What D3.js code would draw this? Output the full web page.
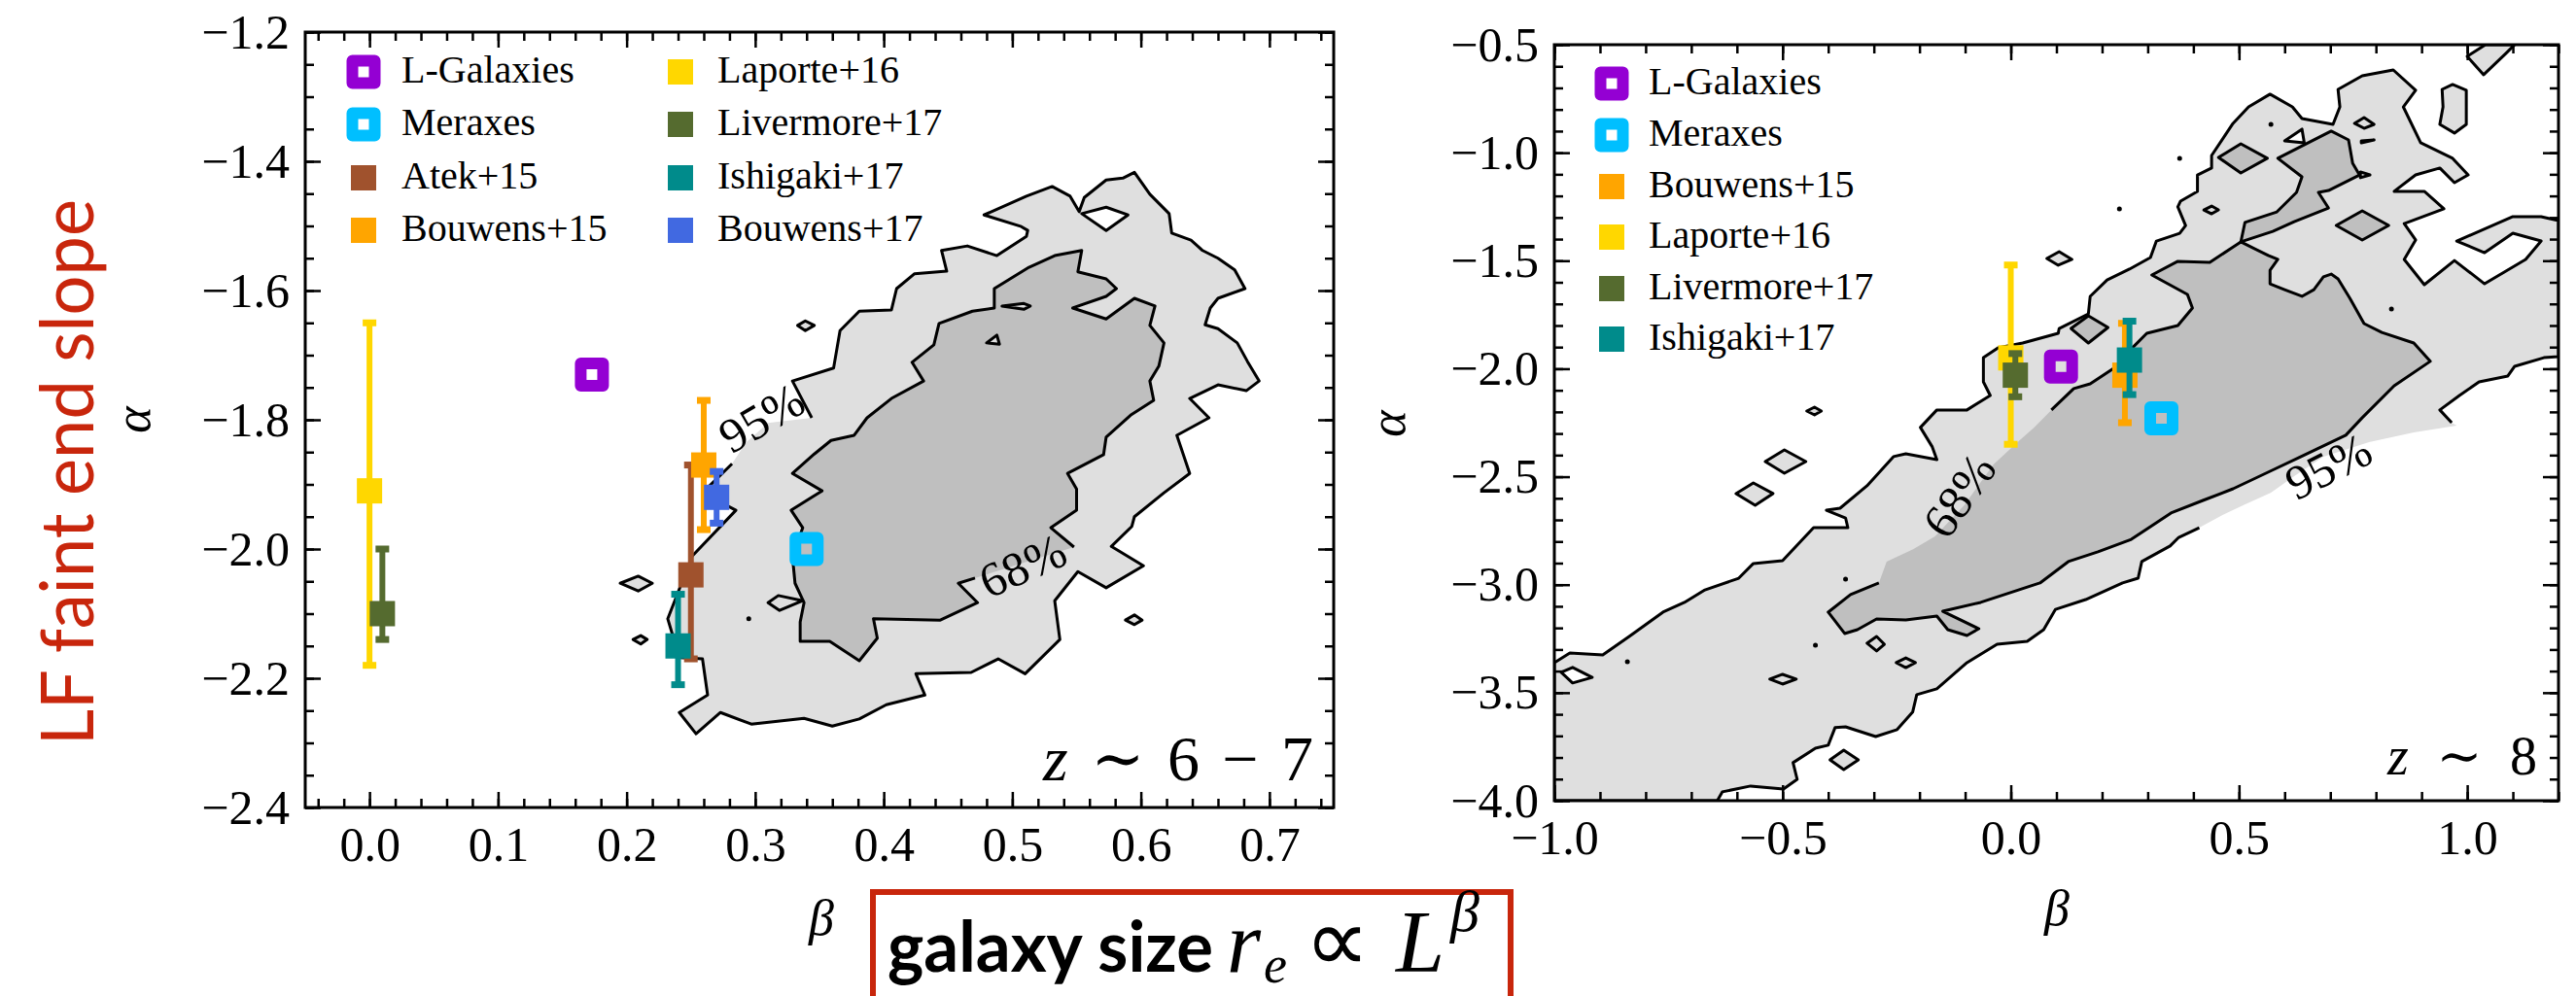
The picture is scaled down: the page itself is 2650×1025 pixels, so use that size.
<!DOCTYPE html>
<html lang="en">
<head>
<meta charset="UTF-8">
<title>LF faint end slope vs size-luminosity slope</title>
<script src="https://d3js.org/d3.v7.min.js"></script>
<style>
  body { margin: 0; background: #fff; }
  svg { display: block; }
</style>
</head>
<body>
<svg id="fig" width="2650" height="1025"></svg>
<script>
// ---------- data: z ~ 6-7 panel ----------
const leftSeries = ["L-Galaxies", "Meraxes", "Atek+15", "Bouwens+15", "Laporte+16", "Livermore+17", "Ishigaki+17", "Bouwens+17"];
const leftBeta  = [0.173, 0.340, 0.250, 0.260, 0.000, 0.010, 0.240, 0.270];
const leftAlpha = [-1.73, -2.00, -2.04, -1.87, -1.91, -2.10, -2.15, -1.92];
const leftHi    = [null, null, -1.87, -1.77, -1.65, -2.00, -2.07, -1.88];
const leftLo    = [null, null, -2.17, -1.97, -2.18, -2.14, -2.21, -1.96];

// ---------- data: z ~ 8 panel ----------
const rightSeries = ["L-Galaxies", "Meraxes", "Bouwens+15", "Laporte+16", "Livermore+17", "Ishigaki+17"];
const rightBeta  = [0.11, 0.33, 0.25, 0.00, 0.01, 0.26];
const rightAlpha = [-1.99, -2.23, -2.03, -1.95, -2.03, -1.96];
const rightHi    = [null, null, -1.79, -1.52, -1.93, -1.78];
const rightLo    = [null, null, -2.25, -2.35, -2.13, -2.12];

// tick labels
const leftXTicks  = [0.0, 0.1, 0.2, 0.3, 0.4, 0.5, 0.6, 0.7];
const leftYTicks  = [-2.4, -2.2, -2.0, -1.8, -1.6, -1.4, -1.2];
const rightXTicks = [-1.0, -0.5, 0.0, 0.5, 1.0];
const rightYTicks = [-4.0, -3.5, -3.0, -2.5, -2.0, -1.5, -1.0, -0.5];

// ---------- posterior contours (beta, alpha) ----------
// outer (95%) and inner (68%) levels; *Gap = fill-only stretch where the label sits
const left95 = [[0.344,-1.797],[0.329,-1.740],[0.361,-1.720],[0.366,-1.662],[0.381,-1.632],[0.406,-1.630],[0.410,-1.597],[0.424,-1.574],[0.449,-1.570],[0.445,-1.538],[0.465,-1.531],[0.488,-1.546],[0.511,-1.516],[0.512,-1.507],[0.507,-1.501],[0.478,-1.483],[0.511,-1.454],[0.531,-1.439],[0.545,-1.454],[0.552,-1.478],[0.556,-1.456],[0.573,-1.429],[0.586,-1.426],[0.595,-1.417],[0.607,-1.451],[0.622,-1.481],[0.624,-1.511],[0.639,-1.522],[0.648,-1.538],[0.660,-1.550],[0.673,-1.568],[0.681,-1.597],[0.660,-1.612],[0.654,-1.627],[0.650,-1.653],[0.660,-1.659],[0.675,-1.681],[0.683,-1.710],[0.692,-1.740],[0.682,-1.755],[0.660,-1.746],[0.638,-1.767],[0.653,-1.797],[0.628,-1.824],[0.638,-1.883],[0.618,-1.913],[0.595,-1.950],[0.593,-1.965],[0.577,-1.996],[0.602,-2.026],[0.573,-2.060],[0.551,-2.035],[0.533,-2.080],[0.537,-2.140],[0.510,-2.193],[0.489,-2.170],[0.468,-2.191],[0.425,-2.193],[0.432,-2.226],[0.402,-2.241],[0.381,-2.263],[0.360,-2.274],[0.338,-2.262],[0.297,-2.271],[0.273,-2.253],[0.254,-2.286],[0.241,-2.253],[0.263,-2.226],[0.259,-2.170],[0.241,-2.168],[0.232,-2.108],[0.251,-2.011],[0.285,-1.940],[0.259,-1.913],[0.282,-1.868]];
const left95Gap = [[0.293,-1.835],[0.310,-1.805]];
const left68 = [[0.548,-1.997],[0.530,-1.967],[0.550,-1.940],[0.550,-1.907],[0.543,-1.883],[0.571,-1.854],[0.573,-1.827],[0.592,-1.793],[0.610,-1.770],[0.607,-1.740],[0.614,-1.717],[0.618,-1.681],[0.607,-1.654],[0.611,-1.624],[0.595,-1.612],[0.573,-1.644],[0.547,-1.627],[0.573,-1.609],[0.581,-1.597],[0.573,-1.582],[0.551,-1.571],[0.554,-1.538],[0.533,-1.546],[0.513,-1.564],[0.486,-1.597],[0.486,-1.627],[0.469,-1.632],[0.443,-1.651],[0.439,-1.684],[0.422,-1.711],[0.431,-1.740],[0.406,-1.767],[0.387,-1.797],[0.377,-1.824],[0.359,-1.832],[0.346,-1.853],[0.329,-1.883],[0.352,-1.910],[0.328,-1.940],[0.337,-1.967],[0.329,-2.012],[0.331,-2.053],[0.338,-2.083],[0.335,-2.113],[0.335,-2.143],[0.358,-2.143],[0.381,-2.173],[0.395,-2.138],[0.392,-2.108],[0.444,-2.110],[0.473,-2.083],[0.458,-2.053],[0.471,-2.045]];
const left68Gap = [[0.509,-2.021]];
const leftIslands = [
  [[0.333,-1.654],[0.339,-1.647],[0.346,-1.654],[0.339,-1.662]],
  [[0.195,-2.053],[0.209,-2.042],[0.220,-2.053],[0.209,-2.065]],
  [[0.205,-2.140],[0.211,-2.134],[0.216,-2.140],[0.211,-2.147]],
  [[0.588,-2.110],[0.595,-2.102],[0.601,-2.110],[0.595,-2.117]],
  [[0.310,-2.083],[0.318,-2.072],[0.337,-2.080],[0.319,-2.095]],
  [[0.492,-1.624],[0.509,-1.620],[0.514,-1.624],[0.509,-1.629]],
  [[0.480,-1.681],[0.488,-1.669],[0.490,-1.683]]
];
const leftHoles = [[[0.554,-1.481],[0.573,-1.471],[0.590,-1.483],[0.573,-1.507]]];
const leftDots = [[0.295,-2.108]];

const right95 = [[0.966,-2.250],[0.940,-2.191],[0.983,-2.124],[1.026,-2.061],[1.089,-2.034],[1.104,-1.989],[1.168,-1.949],[1.2,-1.944],[1.2,-1.314],[1.162,-1.296],[1.100,-1.296],[0.977,-1.409],[1.038,-1.463],[1.100,-1.373],[1.162,-1.409],[1.128,-1.494],[1.038,-1.607],[0.972,-1.499],[0.906,-1.611],[0.862,-1.494],[0.887,-1.404],[0.862,-1.328],[0.949,-1.260],[0.906,-1.179],[0.840,-1.179],[0.887,-1.103],[0.940,-1.071],[0.972,-1.139],[1.002,-1.103],[0.968,-1.026],[0.898,-0.954],[0.860,-0.788],[0.887,-0.711],[0.838,-0.617],[0.770,-0.644],[0.717,-0.707],[0.721,-0.788],[0.706,-0.869],[0.638,-0.842],[0.617,-0.788],[0.568,-0.729],[0.521,-0.788],[0.487,-0.864],[0.440,-1.013],[0.440,-1.071],[0.409,-1.103],[0.409,-1.179],[0.372,-1.224],[0.366,-1.251],[0.383,-1.337],[0.370,-1.373],[0.319,-1.409],[0.306,-1.485],[0.260,-1.539],[0.211,-1.589],[0.174,-1.665],[0.170,-1.746],[0.106,-1.814],[0.104,-1.836],[0.026,-1.881],[-0.028,-1.904],[-0.060,-1.949],[-0.060,-2.061],[-0.045,-2.124],[-0.096,-2.191],[-0.162,-2.191],[-0.198,-2.272],[-0.172,-2.362],[-0.162,-2.421],[-0.230,-2.394],[-0.257,-2.407],[-0.315,-2.542],[-0.374,-2.646],[-0.404,-2.655],[-0.362,-2.691],[-0.357,-2.736],[-0.432,-2.736],[-0.500,-2.889],[-0.564,-2.902],[-0.596,-2.970],[-0.670,-3.024],[-0.715,-3.082],[-0.762,-3.127],[-0.836,-3.240],[-0.894,-3.325],[-0.966,-3.316],[-1.0,-3.361],[-1.0,-4.0],[-0.643,-4.0],[-0.632,-3.959],[-0.570,-3.932],[-0.498,-3.946],[-0.468,-3.901],[-0.477,-3.824],[-0.428,-3.757],[-0.400,-3.743],[-0.385,-3.662],[-0.362,-3.658],[-0.296,-3.703],[-0.249,-3.671],[-0.215,-3.590],[-0.206,-3.509],[-0.162,-3.482],[-0.096,-3.361],[-0.030,-3.276],[0.036,-3.262],[0.072,-3.208],[0.098,-3.114],[0.164,-3.069],[0.245,-2.992],[0.279,-2.970],[0.287,-2.893],[0.349,-2.821],[0.368,-2.781],[0.413,-2.736]];
const right95Gap = [[0.464,-2.677],[0.509,-2.632],[0.570,-2.574],[0.621,-2.497],[0.685,-2.407],[0.785,-2.340],[0.883,-2.295],[0.977,-2.263]];
const right68 = [[0.089,-2.191],[0.138,-2.092],[0.174,-2.070],[0.232,-1.989],[0.266,-1.904],[0.298,-1.836],[0.366,-1.800],[0.398,-1.719],[0.387,-1.656],[0.309,-1.566],[0.366,-1.503],[0.436,-1.508],[0.504,-1.413],[0.564,-1.476],[0.585,-1.494],[0.568,-1.544],[0.568,-1.607],[0.600,-1.634],[0.638,-1.665],[0.664,-1.634],[0.685,-1.575],[0.702,-1.562],[0.717,-1.584],[0.743,-1.674],[0.774,-1.791],[0.813,-1.832],[0.883,-1.881],[0.919,-1.966],[0.840,-2.079],[0.770,-2.227],[0.734,-2.308],[0.636,-2.407],[0.568,-2.475],[0.487,-2.556],[0.421,-2.610],[0.351,-2.668],[0.306,-2.731],[0.264,-2.790],[0.191,-2.848],[0.126,-2.893],[0.064,-2.992],[-0.066,-3.082],[-0.149,-3.123],[-0.070,-3.204],[-0.096,-3.235],[-0.138,-3.208],[-0.162,-3.145],[-0.230,-3.163],[-0.294,-3.159],[-0.336,-3.208],[-0.364,-3.226],[-0.400,-3.127],[-0.351,-3.046],[-0.289,-2.992]];
const right68Gap = [[-0.272,-2.893],[-0.213,-2.835],[-0.166,-2.776],[-0.102,-2.632],[-0.038,-2.443],[0.015,-2.340],[0.051,-2.272]];
const right68Lobe = [[0.504,-1.413],[0.513,-1.323],[0.583,-1.274],[0.626,-1.184],[0.638,-1.112],[0.585,-1.026],[0.702,-0.900],[0.740,-0.941],[0.749,-1.049],[0.764,-1.103],[0.696,-1.175],[0.674,-1.184],[0.696,-1.256],[0.621,-1.319],[0.574,-1.364]];
const rightIslands = [
  [[1.040,-0.5],[1.0,-0.554],[1.036,-0.639],[1.085,-0.540],[1.104,-0.5]],
  [[0.945,-0.707],[0.968,-0.684],[0.998,-0.711],[0.998,-0.869],[0.972,-0.909],[0.940,-0.869],[0.947,-0.788]],
  [[0.753,-0.864],[0.774,-0.837],[0.796,-0.869],[0.774,-0.887]],
  [[0.768,-0.945],[0.796,-0.941],[0.768,-0.954]],
  [[0.766,-1.089],[0.787,-1.103],[0.766,-1.116]],
  [[0.423,-1.265],[0.440,-1.247],[0.455,-1.265],[0.440,-1.283]],
  [[0.079,-1.490],[0.106,-1.458],[0.134,-1.494],[0.104,-1.521]],
  [[-0.447,-2.196],[-0.430,-2.178],[-0.415,-2.196],[-0.430,-2.214]],
  [[-0.538,-2.430],[-0.496,-2.376],[-0.449,-2.430],[-0.496,-2.484]],
  [[-0.602,-2.578],[-0.564,-2.529],[-0.521,-2.578],[-0.560,-2.632]],
  [[-0.528,-3.437],[-0.500,-3.415],[-0.470,-3.437],[-0.500,-3.460]],
  [[-0.315,-3.271],[-0.294,-3.240],[-0.277,-3.276],[-0.294,-3.307]],
  [[-0.251,-3.361],[-0.230,-3.339],[-0.209,-3.361],[-0.230,-3.384]],
  [[-0.396,-3.811],[-0.366,-3.766],[-0.334,-3.811],[-0.366,-3.856]]
];
const rightDarkIslands = [
  [[0.455,-1.022],[0.504,-0.959],[0.562,-1.026],[0.504,-1.094]],
  [[0.713,-1.337],[0.770,-1.269],[0.828,-1.337],[0.770,-1.404]],
  [[0.132,-1.814],[0.170,-1.755],[0.213,-1.809],[0.170,-1.881]]
];
const rightHoles = [
  [[0.600,-0.945],[0.638,-0.891],[0.643,-0.954]],
  [[-0.985,-3.406],[-0.960,-3.383],[-0.917,-3.429],[-0.960,-3.455]]
];
const rightDots = [[0.370,-1.026],[0.238,-1.260],[0.570,-0.869],[0.834,-1.724],[-0.840,-3.357],[-0.428,-3.280],[-0.362,-2.974]];

// ---------- styling ----------
const seriesColor = {
  "L-Galaxies": "#9400d3", "Meraxes": "#00bfff", "Atek+15": "#a0522d", "Bouwens+15": "#ffa500",
  "Laporte+16": "#ffd700", "Livermore+17": "#556b2f", "Ishigaki+17": "#008b8b", "Bouwens+17": "#4169e1"
};
const hollow = new Set(["L-Galaxies", "Meraxes"]);
const serif = "'Liberation Serif', 'DejaVu Serif', serif";
const lightGrey = "#dfdfdf", darkGrey = "#bfbfbf";
const red = "#c8260c";

const svg = d3.select("#fig");
svg.append("rect").attr("width", 2650).attr("height", 1025).attr("fill", "#fff");

function makePanel(id, box, xDomain, yDomain) {
  const x = d3.scaleLinear().domain(xDomain).range([box.left, box.right]);
  const y = d3.scaleLinear().domain(yDomain).range([box.bottom, box.top]);
  svg.append("clipPath").attr("id", id).append("rect")
    .attr("x", box.left).attr("y", box.top)
    .attr("width", box.right - box.left).attr("height", box.bottom - box.top);
  const g = svg.append("g");
  const cg = g.append("g").attr("clip-path", `url(#${id})`);
  const line = d3.line().x(d => x(d[0])).y(d => y(d[1]));
  return { x, y, g, cg, line, box };
}

// levels: {pts, gap, fill}; an empty gap means a closed, fully outlined level
function drawContours(p, levels, islands, darkIslands, holes, dots) {
  levels.forEach(l => {
    p.cg.append("path").attr("d", p.line(l.pts.concat(l.gap)) + "Z").attr("fill", l.fill);
  });
  const isl = [];
  islands.forEach(s => isl.push([s, lightGrey]));
  darkIslands.forEach(s => isl.push([s, darkGrey]));
  holes.forEach(s => isl.push([s, "#fff"]));
  isl.forEach(([s, c]) => {
    p.cg.append("path").attr("d", p.line(s) + "Z").attr("fill", c)
      .attr("stroke", "#000").attr("stroke-width", 3).attr("stroke-linejoin", "round");
  });
  // outlines, broken where the labels sit
  levels.forEach(l => {
    p.cg.append("path").attr("d", p.line(l.pts) + (l.gap.length ? "" : "Z"))
      .attr("fill", "none").attr("stroke", "#000").attr("stroke-width", 3)
      .attr("stroke-linejoin", "round");
  });
  dots.forEach(d => {
    p.cg.append("circle").attr("cx", p.x(d[0])).attr("cy", p.y(d[1])).attr("r", 2.5).attr("fill", "#000");
  });
}

function contourLabel(p, text, at, angle) {
  p.g.append("text")
    .attr("transform", `translate(${p.x(at[0])},${p.y(at[1])}) rotate(${angle})`)
    .attr("text-anchor", "middle").attr("dominant-baseline", "central")
    .attr("font-family", serif).attr("font-size", 50).text(text);
}

function drawMarker(g, name, cx, cy) {
  const c = seriesColor[name];
  if (hollow.has(name)) {
    g.append("rect").attr("x", cx - 11.5).attr("y", cy - 11.5).attr("width", 23).attr("height", 23)
      .attr("fill", "none").attr("stroke", c).attr("stroke-width", 12).attr("stroke-linejoin", "round");
  } else {
    g.append("rect").attr("x", cx - 13).attr("y", cy - 13).attr("width", 26).attr("height", 26).attr("fill", c);
  }
}

function drawPoints(p, names, beta, alpha, hi, lo) {
  names.forEach((n, i) => {
    const cx = p.x(beta[i]), cy = p.y(alpha[i]);
    const c = seriesColor[n];
    if (hi[i] !== null) {
      const y1 = p.y(hi[i]), y2 = p.y(lo[i]);
      p.g.append("line").attr("x1", cx).attr("x2", cx).attr("y1", y1).attr("y2", y2)
        .attr("stroke", c).attr("stroke-width", 6);
      [y1, y2].forEach(yy => p.g.append("rect").attr("x", cx - 7).attr("y", yy - 3.5)
        .attr("width", 14).attr("height", 7).attr("fill", c));
    }
    drawMarker(p.g, n, cx, cy);
  });
}

function drawLegend(p, names, xMarker, xText, yRows, perCol) {
  names.forEach((n, i) => {
    const col = Math.floor(i / perCol), row = i % perCol;
    drawMarker(p.g, n, xMarker[col], yRows[row]);
    p.g.append("text").attr("x", xText[col]).attr("y", yRows[row] + 11)
      .attr("font-family", serif).attr("font-size", 40).text(n);
  });
}

function styleAxis(sel, withText) {
  sel.select(".domain").remove();
  sel.selectAll(".tick line").attr("stroke", "#000").attr("stroke-width", 2.5);
  if (withText) sel.selectAll("text").attr("font-family", serif).attr("font-size", 50).attr("fill", "#000");
  else sel.selectAll("text").remove();
}

function drawAxes(p, xMajor, xMinorStep, yMajor, yMinorStep) {
  const { x, y, box } = p;
  const fmt = d3.format(".1f");
  const xd = x.domain(), yd = y.domain();
  const xMinor = d3.range(Math.ceil(xd[0] / xMinorStep - 1e-6), Math.floor(xd[1] / xMinorStep + 1e-6) + 1).map(k => k * xMinorStep);
  const yMinor = d3.range(Math.ceil(yd[0] / yMinorStep - 1e-6), Math.floor(yd[1] / yMinorStep + 1e-6) + 1).map(k => k * yMinorStep);
  const ax = p.g.append("g");
  // bottom / top
  styleAxis(ax.append("g").attr("transform", `translate(0,${box.bottom})`)
    .call(d3.axisBottom(x).tickValues(xMajor).tickSizeInner(-16).tickSizeOuter(0).tickPadding(19).tickFormat(fmt)), true);
  styleAxis(ax.append("g").attr("transform", `translate(0,${box.bottom})`)
    .call(d3.axisBottom(x).tickValues(xMinor).tickSizeInner(-9).tickSizeOuter(0)), false);
  styleAxis(ax.append("g").attr("transform", `translate(0,${box.top})`)
    .call(d3.axisTop(x).tickValues(xMajor).tickSizeInner(-16).tickSizeOuter(0)), false);
  styleAxis(ax.append("g").attr("transform", `translate(0,${box.top})`)
    .call(d3.axisTop(x).tickValues(xMinor).tickSizeInner(-9).tickSizeOuter(0)), false);
  // left / right
  styleAxis(ax.append("g").attr("transform", `translate(${box.left},0)`)
    .call(d3.axisLeft(y).tickValues(yMajor).tickSizeInner(-16).tickSizeOuter(0).tickPadding(16).tickFormat(fmt)), true);
  styleAxis(ax.append("g").attr("transform", `translate(${box.left},0)`)
    .call(d3.axisLeft(y).tickValues(yMinor).tickSizeInner(-9).tickSizeOuter(0)), false);
  styleAxis(ax.append("g").attr("transform", `translate(${box.right},0)`)
    .call(d3.axisRight(y).tickValues(yMajor).tickSizeInner(-16).tickSizeOuter(0)), false);
  styleAxis(ax.append("g").attr("transform", `translate(${box.right},0)`)
    .call(d3.axisRight(y).tickValues(yMinor).tickSizeInner(-9).tickSizeOuter(0)), false);
  ax.append("rect").attr("x", box.left).attr("y", box.top)
    .attr("width", box.right - box.left).attr("height", box.bottom - box.top)
    .attr("fill", "none").attr("stroke", "#000").attr("stroke-width", 3);
}

// ---------- left panel: z ~ 6-7 ----------
const L = makePanel("clipL", { left: 314, right: 1372, top: 33, bottom: 831 }, [-0.05, 0.75], [-2.4, -1.2]);
drawContours(L,
  [{ pts: left95, gap: left95Gap, fill: lightGrey }, { pts: left68, gap: left68Gap, fill: darkGrey }],
  leftIslands, [], leftHoles, leftDots);
contourLabel(L, "95%", [0.305, -1.797], -30);
contourLabel(L, "68%", [0.508, -2.026], -24);
drawPoints(L, leftSeries, leftBeta, leftAlpha, leftHi, leftLo);
drawLegend(L, leftSeries, [374, 700], [413, 738], [74, 128, 183, 237], 4);
drawAxes(L, leftXTicks, 0.02, leftYTicks, 0.05);
L.g.append("text").attr("x", 1351).attr("y", 803).attr("text-anchor", "end")
  .attr("font-family", serif).attr("font-size", 66)
  .attr("textLength", 278).attr("lengthAdjust", "spacing")
  .html('<tspan font-style="italic">z</tspan> ∼ 6 − 7');
L.g.append("text").attr("transform", "translate(154,432) rotate(-90)").attr("text-anchor", "middle")
  .attr("font-family", serif).attr("font-style", "italic").attr("font-size", 52).text("α");
L.g.append("text").attr("x", 845).attr("y", 962).attr("text-anchor", "middle")
  .attr("font-family", serif).attr("font-style", "italic").attr("font-size", 52).text("β");

// ---------- right panel: z ~ 8 ----------
const R = makePanel("clipR", { left: 1599, right: 2632, top: 46, bottom: 824 }, [-1.0, 1.2], [-4.0, -0.5]);
drawContours(R,
  [{ pts: right95, gap: right95Gap, fill: lightGrey },
   { pts: right68, gap: right68Gap, fill: darkGrey },
   { pts: right68Lobe, gap: [], fill: darkGrey }],
  rightIslands, rightDarkIslands, rightHoles, rightDots);
contourLabel(R, "95%", [0.696, -2.452], -27);
contourLabel(R, "68%", [-0.113, -2.587], -55);
drawPoints(R, rightSeries, rightBeta, rightAlpha, rightHi, rightLo);
drawLegend(R, rightSeries, [1658], [1696], [86, 139, 192, 244, 297, 349], 6);
drawAxes(R, rightXTicks, 0.1, rightYTicks, 0.1);
R.g.append("text").attr("x", 2610).attr("y", 797).attr("text-anchor", "end")
  .attr("font-family", serif).attr("font-size", 56)
  .attr("textLength", 154).attr("lengthAdjust", "spacing")
  .html('<tspan font-style="italic">z</tspan> ∼ 8');
R.g.append("text").attr("transform", "translate(1445,436) rotate(-90)").attr("text-anchor", "middle")
  .attr("font-family", serif).attr("font-style", "italic").attr("font-size", 52).text("α");
R.g.append("text").attr("x", 2116).attr("y", 952).attr("text-anchor", "middle")
  .attr("font-family", serif).attr("font-style", "italic").attr("font-size", 52).text("β");

// ---------- slide annotations ----------
svg.append("text").attr("transform", "translate(96,486) rotate(-90)").attr("text-anchor", "middle")
  .attr("font-family", "Lato, 'Open Sans', sans-serif").attr("font-size", 75).attr("fill", red)
  .attr("textLength", 562).attr("lengthAdjust", "spacingAndGlyphs").text("LF faint end slope");
svg.append("rect").attr("x", 898).attr("y", 918).attr("width", 656).attr("height", 200)
  .attr("fill", "none").attr("stroke", red).attr("stroke-width", 6);
svg.append("text").attr("x", 913).attr("y", 1000)
  .attr("font-family", "Lato, 'Open Sans', sans-serif").attr("font-weight", 700).attr("font-size", 72)
  .attr("textLength", 335).attr("lengthAdjust", "spacingAndGlyphs").text("galaxy size");
svg.append("text").attr("x", 1262).attr("y", 1000).attr("font-family", serif).attr("font-style", "italic")
  .attr("font-size", 90).text("r");
svg.append("text").attr("x", 1300).attr("y", 1011).attr("font-family", serif).attr("font-style", "italic")
  .attr("font-size", 54).text("e");
svg.append("text").attr("x", 1342).attr("y", 1000).attr("font-family", "'DejaVu Sans', sans-serif")
  .attr("font-size", 94).text("∝");
svg.append("text").attr("x", 1436).attr("y", 1000).attr("font-family", serif).attr("font-style", "italic")
  .attr("font-size", 90).text("L");
svg.append("text").attr("x", 1492).attr("y", 958).attr("font-family", serif).attr("font-style", "italic")
  .attr("font-size", 60).text("β");
</script>
</body>
</html>
